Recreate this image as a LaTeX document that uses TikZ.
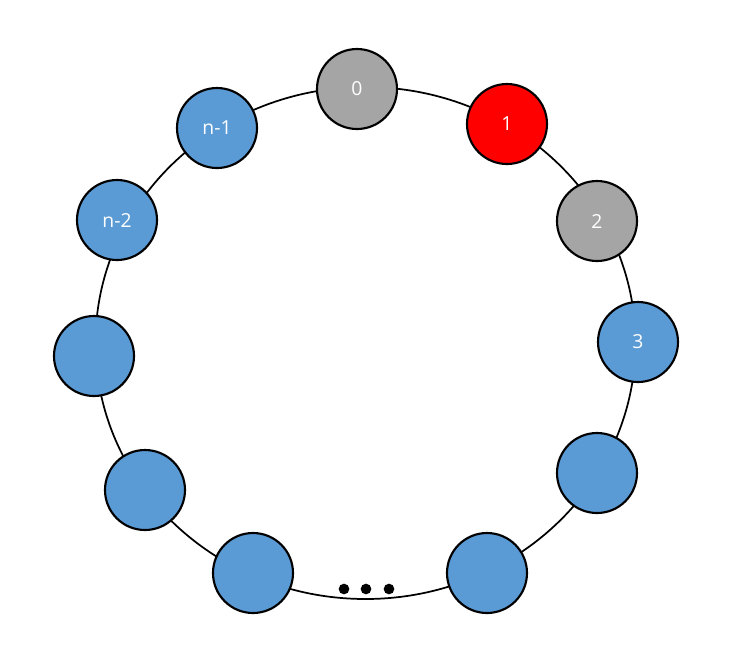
\documentclass[tikz,border=0pt]{standalone}
\usepackage{fontspec}
\setmainfont{Open Sans}
\definecolor{nblue}{HTML}{5B9BD5}
\definecolor{ngray}{HTML}{A5A5A5}
\definecolor{nred}{HTML}{FF0000}
\tikzset{
  ringnode/.style={circle, draw=black, line width=1.6pt, minimum size=60pt, inner sep=0pt, text=white, font=\fontsize{14.5}{17}\selectfont},
  bluenode/.style={ringnode, fill=nblue},
  graynode/.style={ringnode, fill=ngray},
  rednode/.style={ringnode, fill=nred},
  dotnode/.style={circle, fill=black, minimum size=8pt, inner sep=0pt}
}
\begin{document}
\begin{tikzpicture}[x=0.75pt, y=-0.75pt]
\useasboundingbox (0,0) rectangle (754,662);
\coordinate (c) at (365.5,343);
\draw[line width=1.3pt] (c) ellipse [x radius=202.5pt, y radius=192pt];
\node[graynode] (n0) at (357,89) {0};
\node[rednode] (n1) at (507,124) {1};
\node[graynode] (n2) at (597,221) {2};
\node[bluenode] (n3) at (638,342) {3};
\node[bluenode] (n4) at (597,473) {};
\node[bluenode] (n5) at (487,573) {};
\node[bluenode] (m5) at (253,573) {};
\node[bluenode] (m4) at (145,490) {};
\node[bluenode] (m3) at (94,356) {};
\node[bluenode] (m2) at (117,220) {n-2};
\node[bluenode] (m1) at (217,128) {n-1};
\node[dotnode] (d1) at (344,589) {};
\node[dotnode] (d2) at (366,589) {};
\node[dotnode] (d3) at (389,589) {};
\end{tikzpicture}
\end{document}
